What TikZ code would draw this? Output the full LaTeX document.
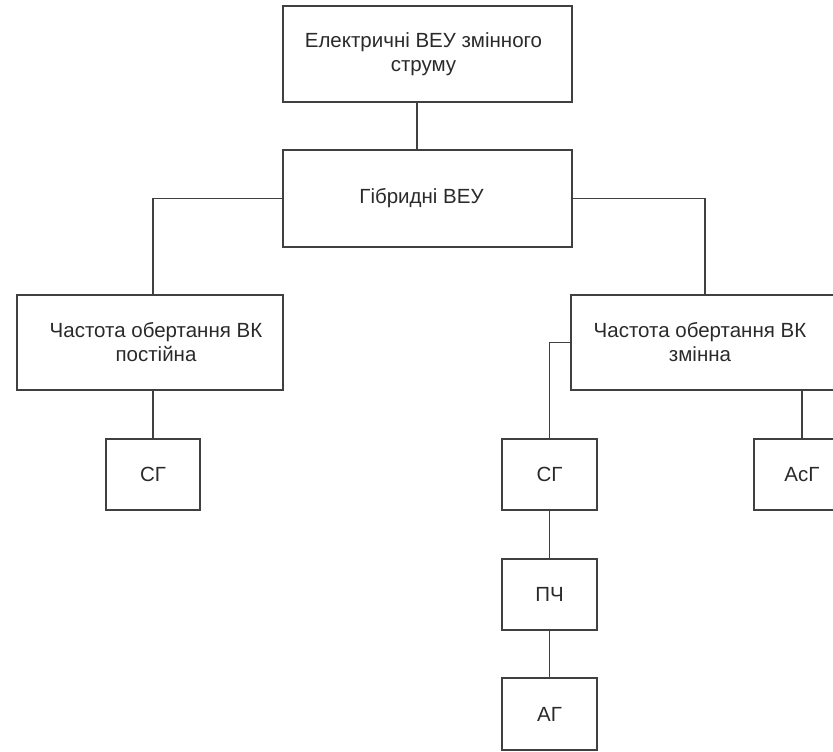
\documentclass[tikz,border=0pt]{standalone}
\usepackage{fontspec}
\setmainfont{Liberation Sans}
\definecolor{ln}{HTML}{404040}
\definecolor{tx}{HTML}{2A2A2A}
\newcommand{\shl}{\hspace*{-8pt}}
\newcommand{\shr}{\hspace*{12pt}}
\begin{document}
\begin{tikzpicture}[x=1pt,y=1pt,
  box/.style={draw=ln,line width=1.3pt,rectangle,inner sep=0pt,align=center,text=tx,
    font=\fontsize{20.5}{24}\selectfont},
  conn/.style={draw=ln,line width=1.3pt}]
\useasboundingbox (0,0) rectangle (833,-752);
\node[box,minimum width=289,minimum height=96] (top) at (427.5,-54) {\shl Електричні ВЕУ змінного\\\shl струму};
\node[box,minimum width=289,minimum height=97] (hyb) at (427.5,-198.5) {\hspace*{-12pt}Гібридні ВЕУ};
\node[box,minimum width=266,minimum height=95] (left) at (150,-342.5) {\shr Частота обертання ВК\\\shr постійна};
\node[box,minimum width=266,minimum height=95] (right) at (704,-342.5) {\shl Частота обертання ВК\\\shl змінна};
\node[box,minimum width=94,minimum height=71] (sg1) at (153,-474.5) {СГ};
\node[box,minimum width=95,minimum height=71] (sg2) at (549.5,-474.5) {СГ};
\node[box,minimum width=95,minimum height=71] (pch) at (549.5,-594.5) {ПЧ};
\node[box,minimum width=95,minimum height=72] (ag) at (549.5,-714) {АГ};
\node[box,minimum width=96,minimum height=71] (asg) at (802,-474.5) {АсГ};
\draw[conn] ([xshift=-10.5pt]top.south) -- ([xshift=-10.5pt]hyb.north);
\draw[conn] (hyb.west) -| ([xshift=3pt]left.north);
\draw[conn] (hyb.east) -| ([xshift=1pt]right.north);
\draw[conn] (sg1.north |- left.south) -- (sg1.north);
\draw[conn] (right.west) -| (sg2.north);
\draw[conn] (sg2.south) -- (pch.north);
\draw[conn] (pch.south) -- (ag.north);
\draw[conn] (asg.north |- right.south) -- (asg.north);
\end{tikzpicture}
\end{document}
